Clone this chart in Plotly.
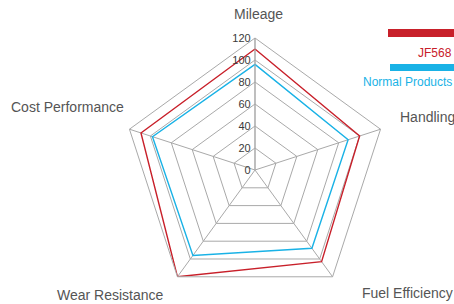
import plotly.graph_objects as go

categories = ["Mileage", "Handling", "Fuel Efficiency", "Wear Resistance", "Cost Performance"]
jf568 = [110, 100, 103, 120, 109]
normal = [96, 89, 88, 96, 98]
radial_ticks = [0, 20, 40, 60, 80, 100, 120]
R_MAX = 120

RED = "#c8202a"
CYAN = "#19b2e6"
GRID = "#a9a9a9"
LABEL = "#555555"
W, H = 454, 304

def close(v):
    return list(v) + [v[0]]

def px(x):
    return x / W

def py(y):
    return 1 - y / H

fig = go.Figure()
fig.add_trace(go.Scatterpolar(r=close(normal), theta=close(categories), mode="lines",
                              line=dict(color=CYAN, width=1.4), name="Normal Products",
                              showlegend=False))
fig.add_trace(go.Scatterpolar(r=close(jf568), theta=close(categories), mode="lines",
                              line=dict(color=RED, width=1.4), name="JF568",
                              showlegend=False))
fig.add_trace(go.Scatterpolar(r=[R_MAX * 1.04] * len(categories), theta=categories, mode="markers",
                              marker=dict(color="#a3a3a6", size=12), cliponaxis=False,
                              showlegend=False, hoverinfo="skip"))

cx, cy, rad = 255, 170, 132
fig.update_layout(
    width=W, height=H,
    margin=dict(l=0, r=0, t=0, b=0),
    paper_bgcolor="white", plot_bgcolor="white",
    font=dict(family="Liberation Sans, Arial, sans-serif", color=LABEL),
    polar=dict(
        domain=dict(x=[px(cx - rad), px(cx + rad)], y=[max(0, py(cy + rad)), py(cy - rad)]),
        bgcolor="white",
        gridshape="linear",
        radialaxis=dict(range=[0, R_MAX], tickvals=radial_ticks, ticktext=[str(t) for t in radial_ticks],
                        angle=90, tickangle=90, side="counterclockwise",
                        showline=True, linecolor=GRID, linewidth=1,
                        gridcolor=GRID, gridwidth=1, ticks="",
                        tickfont=dict(size=11, color="#3a3a3a")),
        angularaxis=dict(direction="clockwise", rotation=90, showticklabels=False, ticks="",
                         showline=True, linecolor=GRID, linewidth=1,
                         gridcolor=GRID, gridwidth=1),
    ),
)

def ann(text, x, y, xanchor="center", color=LABEL, size=14):
    fig.add_annotation(text=text, x=px(x), y=py(y), xref="paper", yref="paper",
                       xanchor=xanchor, yanchor="middle", showarrow=False,
                       font=dict(size=size, color=color))

ann(categories[0], 258, 14)
ann(categories[1], 398, 117, xanchor="left")
ann(categories[2], 407, 293)
ann(categories[3], 110, 295)
ann(categories[4], 67, 107)

# legend
fig.add_shape(type="rect", xref="paper", yref="paper", x0=px(388), x1=1.0,
              y0=py(37), y1=py(29), fillcolor=RED, line_width=0)
fig.add_shape(type="rect", xref="paper", yref="paper", x0=px(390), x1=1.0,
              y0=py(71), y1=py(64), fillcolor=CYAN, line_width=0)
ann("JF568", 454, 53, xanchor="right", color=RED, size=12)
ann("Normal Products", 454, 82, xanchor="right", color=CYAN, size=12)

fig.write_html("out.html", config={"displayModeBar": False},
               post_script="document.body.style.margin='0px';document.body.style.overflow='hidden';")
